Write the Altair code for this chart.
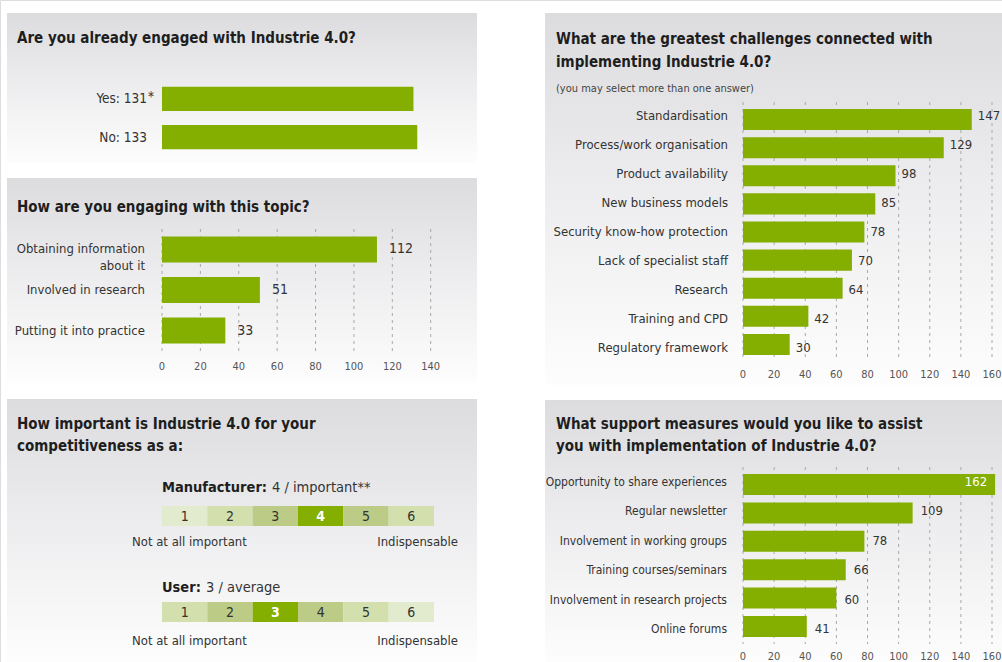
import altair as alt
import pandas as pd

FONT = "'Liberation Sans Narrow', 'Arial Narrow', 'DejaVu Sans Condensed', sans-serif"
GREEN = "#84ae00"
DARK = "#1e1e1e"
TXT = "#333333"
TITLE = 15

# ---------------- data ----------------
engaged_labels = ["Yes: 131", "No: 133"]
engaged_marks = ["*", ""]
engaged_values = [131, 133]

engage_cats = ["Obtaining information about it", "Involved in research", "Putting it into practice"]
engage_labels = ["Obtaining information\nabout it", "Involved in research", "Putting it into practice"]
engage_values = [112, 51, 33]

importance_ratings = [1, 2, 3, 4, 5, 6]
manufacturer_score = 4
manufacturer_word = "important**"
user_score = 3
user_word = "average"

challenge_cats = ["Standardisation", "Process/work organisation", "Product availability",
                  "New business models", "Security know-how protection", "Lack of specialist staff",
                  "Research", "Training and CPD", "Regulatory framework"]
challenge_values = [147, 129, 98, 85, 78, 70, 64, 42, 30]

support_cats = ["Opportunity to share experiences", "Regular newsletter", "Involvement in working groups",
                "Training courses/seminars", "Involvement in research projects", "Online forums"]
support_values = [162, 109, 78, 66, 60, 41]

ticks_140 = [0, 20, 40, 60, 80, 100, 120, 140]
ticks_160 = [0, 20, 40, 60, 80, 100, 120, 140, 160]

# ---------------- helpers ----------------
ONE = pd.DataFrame({"k": [0]})
GRAD = alt.Gradient(
    gradient="linear", x1=0, x2=0, y1=0, y2=1,
    stops=[alt.GradientStop(color="#dcdcdf", offset=0),
           alt.GradientStop(color="#ececee", offset=0.45),
           alt.GradientStop(color="#fdfdfd", offset=1)])

layers = []


def bg(x0, x1, y0, y1):
    layers.append(alt.Chart(ONE).mark_rect(color=GRAD).encode(
        x=alt.value(x0), x2=alt.value(x1), y=alt.value(y0), y2=alt.value(y1)))


def txt(s, x, y, size=13, weight="normal", color=TXT, align="left", baseline="alphabetic"):
    layers.append(alt.Chart(ONE).mark_text(
        text=s, font=FONT, fontSize=size, fontWeight=weight, color=color,
        align=align, baseline=baseline).encode(x=alt.value(x), y=alt.value(y)))


def bar_panel(cats, labels, values, xdom, xrange, yrange, pi, po, label_x, label_size=13,
              value_size=13, value_dx=8, ticks=None, grid=None, tick_y=None, marks=None, inside=10**9):
    df = pd.DataFrame({"cat": cats, "label": labels, "value": values})
    if marks is not None:
        df["mark"] = marks
    xs = alt.Scale(domain=xdom, range=xrange, nice=False, zero=True)
    ys = alt.Scale(domain=cats, range=yrange, paddingInner=pi, paddingOuter=po)
    X = alt.X("value:Q", scale=xs, axis=None)
    Y = alt.Y("cat:N", scale=ys, axis=None)
    if ticks is not None:
        tdf = pd.DataFrame({"t": ticks})
        layers.append(alt.Chart(tdf).mark_rule(strokeDash=[3, 4], strokeWidth=1, color="#a8a8a8").encode(
            x=alt.X("t:Q", scale=xs, axis=None), y=alt.value(grid[0]), y2=alt.value(grid[1])))
        layers.append(alt.Chart(tdf).mark_text(font=FONT, fontSize=11, color="#555555", baseline="middle").encode(
            x=alt.X("t:Q", scale=xs, axis=None), y=alt.value(tick_y), text="t:Q"))
    base = alt.Chart(df)
    layers.append(base.mark_bar(color=GREEN).encode(x=X, y=Y))
    layers.append(base.mark_text(font=FONT, fontSize=label_size, color=TXT, align="right", baseline="middle",
                                 lineBreak="\n", lineHeight=17).encode(
        x=alt.value(label_x), y=Y, text="label:N"))
    if marks is not None:
        layers.append(base.mark_text(font=FONT, fontSize=label_size, color=TXT, align="left", baseline="middle",
                                     dy=-2).encode(x=alt.value(label_x + 1), y=Y, text="mark:N"))
    else:
        layers.append(base.transform_filter(f"datum.value < {inside}").mark_text(
            font=FONT, fontSize=value_size, color=TXT, align="left", baseline="middle", dx=value_dx).encode(
            x=X, y=Y, text="value:Q"))
        layers.append(base.transform_filter(f"datum.value >= {inside}").mark_text(
            font=FONT, fontSize=value_size, color="white", align="right", baseline="middle", dx=-8).encode(
            x=X, y=Y, text="value:Q"))


def strip(score, y0, y1):
    df = pd.DataFrame({"rating": importance_ratings})
    xs = alt.Scale(domain=importance_ratings, range=[162, 434], paddingInner=0, paddingOuter=0)
    base = alt.Chart(df).transform_calculate(dist=f"abs(datum.rating - {score})")
    layers.append(base.mark_rect().encode(
        x=alt.X("rating:O", scale=xs, axis=None), y=alt.value(y0), y2=alt.value(y1),
        color=alt.Color("dist:O", scale=alt.Scale(domain=[0, 1, 2, 3],
                                                 range=[GREEN, "#bccb85", "#d3e0ad", "#e3ebcf"]),
                        legend=None)))
    layers.append(base.transform_filter("datum.dist > 0").mark_text(
        font=FONT, fontSize=14, color=TXT, baseline="middle").encode(
        x=alt.X("rating:O", scale=xs, axis=None), y=alt.value((y0 + y1) / 2 + 1), text="rating:O"))
    layers.append(base.transform_filter("datum.dist == 0").mark_text(
        font=FONT, fontSize=14, fontWeight="bold", color="white", baseline="middle").encode(
        x=alt.X("rating:O", scale=xs, axis=None), y=alt.value((y0 + y1) / 2 + 1), text="rating:O"))


# ---------------- panel A ----------------
bg(7, 477, 13, 163)
txt("Are you already engaged with Industrie 4.0?", 17, 43, size=TITLE, weight="bold", color=DARK)
bar_panel(engaged_labels, engaged_labels, engaged_values, [0, 140], [162, 430.7], [79, 157], 0.37, 0.2,
          147, label_size=13.5, marks=engaged_marks)

# ---------------- panel B ----------------
bg(7, 477, 178, 383)
txt("How are you engaging with this topic?", 17, 212, size=TITLE, weight="bold", color=DARK)
bar_panel(engage_cats, engage_labels, engage_values, [0, 140], [162, 430.7], [228, 352], 0.36, 0.21,
          145, label_size=13, value_size=14, value_dx=12,
          ticks=ticks_140, grid=(229, 353), tick_y=367)

# ---------------- panel C ----------------
bg(7, 477, 399, 662)
txt("How important is Industrie 4.0 for your", 17, 429, size=TITLE, weight="bold", color=DARK)
txt("competitiveness as a:", 17, 451, size=TITLE, weight="bold", color=DARK)
txt("Manufacturer:", 162, 492, size=14.5, weight="bold", color=DARK)
txt(f"{manufacturer_score} / {manufacturer_word}", 272, 492, size=14.5, color=TXT)
strip(manufacturer_score, 506, 526)
txt("Not at all important", 132, 546, size=13)
txt("Indispensable", 458, 546, size=13, align="right")
txt("User:", 162, 592, size=14.5, weight="bold", color=DARK)
txt(f"{user_score} / {user_word}", 206, 592, size=14.5, color=TXT)
strip(user_score, 602, 622)
txt("Not at all important", 132, 645, size=13)
txt("Indispensable", 458, 645, size=13, align="right")

# ---------------- panel D ----------------
bg(545, 1002, 13, 385)
txt("What are the greatest challenges connected with", 556, 44, size=TITLE, weight="bold", color=DARK)
txt("implementing Industrie 4.0?", 556, 67, size=TITLE, weight="bold", color=DARK)
txt("(you may select more than one answer)", 556, 92, size=11, color="#444444")
bar_panel(challenge_cats, challenge_cats, challenge_values, [0, 160], [743, 992], [102, 362], 0.25, 0.25,
          728, label_size=13, value_size=13, value_dx=6,
          ticks=ticks_160, grid=(102, 360), tick_y=375)

# ---------------- panel E ----------------
bg(545, 1002, 400, 662)
txt("What support measures would you like to assist", 556, 429, size=TITLE, weight="bold", color=DARK)
txt("you with implementation of Industrie 4.0?", 556, 451, size=TITLE, weight="bold", color=DARK)
bar_panel(support_cats, support_cats, support_values, [0, 160], [743, 992], [467, 644], 0.26, 0.25,
          727, label_size=12, value_size=13, value_dx=8,
          ticks=ticks_160, grid=(467, 644), tick_y=657, inside=150)

chart = alt.layer(*layers).resolve_scale(
    x="independent", y="independent", color="independent"
).properties(
    width=1002, height=662, padding=0, autosize=alt.AutoSizeParams(type="none"), background="white"
).configure_view(stroke=None).configure(font=FONT)

chart.save("out.html", embed_options={"renderer": "svg", "actions": False})
